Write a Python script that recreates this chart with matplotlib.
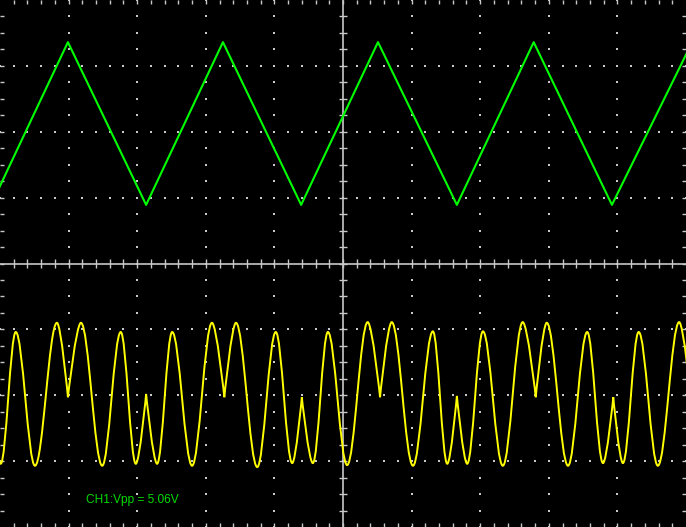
import numpy as np
import matplotlib.pyplot as plt
from matplotlib.path import Path
from matplotlib.patches import PathPatch

# screen is 10 x 8 divisions, values in divisions (center = 0)
# CH2: triangle wave, corner points
tri_t = [-0.13, 0.99, 2.13, 3.25, 4.39, 5.51, 6.66, 7.78, 8.92, 10.09]
tri_v = [0.89, 3.36, 0.89, 3.36, 0.89, 3.36, 0.89, 3.36, 0.89, 3.36]

# CH1: turning points of the yellow trace
ch1_t = [-0.13, 0.01, 0.23, 0.51, 0.83, 0.99, 1.18, 1.49, 1.76, 1.98,
         2.13, 2.29, 2.51, 2.80, 3.09, 3.27, 3.44, 3.75, 4.02, 4.26,
         4.40, 4.56, 4.78, 5.06, 5.36, 5.54, 5.71, 6.02, 6.31, 6.52,
         6.66, 6.81, 7.04, 7.33, 7.62, 7.81, 7.97, 8.28, 8.56, 8.79,
         8.94, 9.08, 9.31, 9.59, 9.90, 10.07]
ch1_v = [-1.98, -3.04, -1.04, -3.07, -0.90, -2.03, -0.90, -3.07, -1.04, -3.04,
         -1.98, -3.04, -1.04, -3.07, -0.90, -2.03, -0.90, -3.09, -1.04, -3.03,
         -2.03, -3.03, -1.04, -3.06, -0.89, -2.03, -0.89, -3.07, -1.03, -3.04,
         -2.01, -3.04, -1.03, -3.07, -0.89, -2.03, -0.90, -3.07, -1.04, -3.03,
         -2.03, -3.03, -1.04, -3.07, -0.89, -2.03]

label = "CH1:Vpp = 5.06V"

GRID = '#c8c8c8'


def trace_path(xs, ys, k=0.36):
    # smooth curve through the turning points (flat tops, sharp mid dips)
    verts = [(xs[0], ys[0])]
    codes = [Path.MOVETO]
    for i in range(len(xs) - 1):
        x0, y0, x1, y1 = xs[i], ys[i], xs[i + 1], ys[i + 1]
        dx = x1 - x0
        k0 = 0.0 if -2.5 < y0 < -1.5 else k
        k1 = 0.0 if -2.5 < y1 < -1.5 else k
        verts += [(x0 + k0 * dx, y0), (x1 - k1 * dx, y1), (x1, y1)]
        codes += [Path.CURVE4] * 3
    return Path(verts, codes)


fig = plt.figure(figsize=(6.86, 5.27), dpi=100, facecolor='black')
ax = fig.add_axes([0, 0, 1, 1])
ax.set_facecolor('black')
ax.set_xlim(0, 10)
ax.set_ylim(-4, 4)
ax.axis('off')

# dotted graticule
for gx in range(1, 10):
    if gx == 5:
        continue
    ys = np.arange(-4, 4.01, 0.25)
    ax.scatter(np.full(len(ys), gx), ys, s=1.0, marker='s', color=GRID, lw=0, zorder=1)
for gy in range(-3, 4):
    if gy == 0:
        continue
    xs = np.arange(0, 10.01, 0.2)
    ax.scatter(xs, np.full(len(xs), gy), s=1.0, marker='s', color=GRID, lw=0, zorder=1)

# center crosshair with ticks
ax.axvline(5, color=GRID, lw=1.2, zorder=1)
ax.axhline(0, color=GRID, lw=1.2, zorder=1)
xt = np.arange(0.2, 10, 0.2)
yt = np.arange(-3.75, 4, 0.25)
ax.vlines(xt, -0.065, 0.065, color=GRID, lw=1.0, zorder=1)
ax.hlines(yt, 5 - 0.06, 5 + 0.06, color=GRID, lw=1.0, zorder=1)

# edge ticks
ax.vlines(xt, 4 - 0.06, 4, color=GRID, lw=1.0, zorder=1)
ax.vlines(xt, -4, -4 + 0.06, color=GRID, lw=1.0, zorder=1)
ax.hlines(yt, 0, 0.06, color=GRID, lw=1.0, zorder=1)
ax.hlines(yt, 10 - 0.06, 10, color=GRID, lw=1.0, zorder=1)

# traces
ax.plot(tri_t, tri_v, color='#00ff00', lw=1.5, zorder=3)
ax.add_patch(PathPatch(trace_path(ch1_t, ch1_v), fill=False,
                       edgecolor='#ffff00', lw=1.4, zorder=3))

ax.text(1.25, -3.636, label, color='#00dc00', fontsize=8.6,
        family='Liberation Sans', va='baseline', ha='left', zorder=4)

fig.savefig('out.png', dpi=100, facecolor='black')
